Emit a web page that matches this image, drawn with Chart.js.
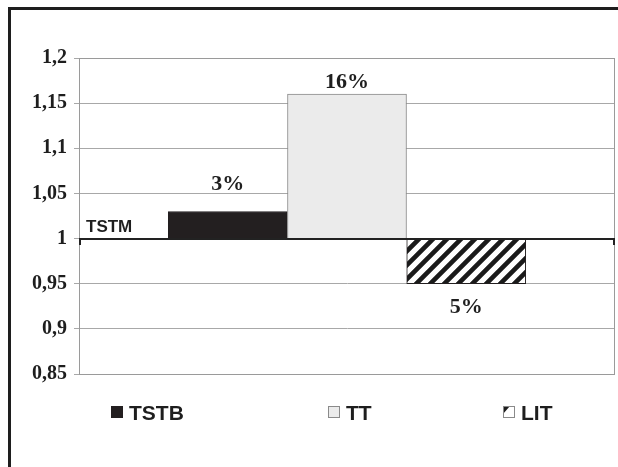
<!DOCTYPE html>
<html>
<head>
<meta charset="utf-8">
<script src="https://cdn.jsdelivr.net/npm/chart.js@4.4.1/dist/chart.umd.min.js"></script>
<style>
  html, body { margin: 0; padding: 0; background: #fff; }
  #wrap { width: 618px; height: 467px; }
</style>
</head>
<body>
<div id="wrap"><canvas id="grafica"></canvas></div>
<script>
// datos
const categorias = ['TSTB', 'TT', 'LIT'];
const base = 1;
const valores = [1.03, 1.16, 0.95];
const porcentajes = ['3%', '16%', '5%'];
const posPorcentaje = [1.06, 1.173, 0.924];
const etiquetaBase = 'TSTM';
const yMin = 0.85, yMax = 1.2, yPaso = 0.05;

// patrón rayado para LIT
function rayado() {
    const n = 14;
    const c = document.createElement('canvas');
    c.width = n; c.height = n;
    const g = c.getContext('2d');
    g.fillStyle = '#fff';
    g.fillRect(0, 0, n, n);
    g.strokeStyle = '#1a1a1a';
    g.lineWidth = 4.6;
    g.beginPath();
    g.moveTo(-2, n + 2); g.lineTo(n + 2, -2);
    g.moveTo(-n - 2, n + 2); g.lineTo(2, -2);
    g.moveTo(-2, 2 * n + 2); g.lineTo(2 * n + 2, -2);
    g.stroke();
    return g.createPattern(c, 'repeat');
}
const patron = rayado();
const rellenos = ['#231f20', '#ebebeb', patron];
const bordes = ['#231f20', '#8a8a8a', '#231f20'];

const extras = {
    id: 'extras',
    beforeDraw(chart) {
        const ctx = chart.ctx;
        ctx.save();
        ctx.fillStyle = '#fff';
        ctx.fillRect(0, 0, chart.width, chart.height);
        // marco exterior
        ctx.fillStyle = '#1e1e1e';
        ctx.fillRect(8, 7, 3, chart.height - 7);
        ctx.fillRect(8, 7, chart.width - 8, 3);
        ctx.restore();
    },
    beforeDatasetsDraw(chart) {
        const ctx = chart.ctx, a = chart.chartArea;
        ctx.save();
        ctx.strokeStyle = '#9a9a9a';
        ctx.lineWidth = 1;
        ctx.strokeRect(a.left + 0.5, a.top + 0.5, a.right - a.left - 1, a.bottom - a.top);
        ctx.restore();
    },
    afterDatasetsDraw(chart) {
        const ctx = chart.ctx, a = chart.chartArea;
        const y = chart.scales.y;
        const yb = Math.round(y.getPixelForValue(base));
        ctx.save();
        // línea base
        ctx.strokeStyle = '#222';
        ctx.lineWidth = 2;
        ctx.beginPath();
        ctx.moveTo(a.left, yb); ctx.lineTo(a.right, yb);
        ctx.moveTo(a.left + 1, yb); ctx.lineTo(a.left + 1, yb + 6);
        ctx.moveTo(a.right - 1, yb); ctx.lineTo(a.right - 1, yb + 6);
        ctx.stroke();
        // etiqueta TSTM
        ctx.fillStyle = '#1e1e1e';
        ctx.font = 'bold 17px "Liberation Sans", Arial, sans-serif';
        ctx.textAlign = 'left';
        ctx.textBaseline = 'middle';
        ctx.fillText(etiquetaBase, a.left + 7, yb - 12);
        // porcentajes
        ctx.font = 'bold 22px "Liberation Serif", "Times New Roman", serif';
        ctx.textAlign = 'center';
        const meta = chart.getDatasetMeta(0);
        meta.data.forEach((bar, i) => {
            ctx.fillText(porcentajes[i], bar.x, y.getPixelForValue(posPorcentaje[i]));
        });
        // leyenda
        const xs = [111, 328, 503];
        const ly = 412;
        ctx.font = 'bold 21px "Liberation Sans", Arial, sans-serif';
        ctx.textAlign = 'left';
        categorias.forEach((c, i) => {
            ctx.fillStyle = i === 2 ? '#fff' : rellenos[i];
            ctx.fillRect(xs[i], ly - 6, 12, 12);
            if (i === 2) {
                ctx.fillStyle = '#1e1e1e';
                ctx.beginPath();
                ctx.moveTo(xs[i], ly - 6); ctx.lineTo(xs[i] + 7, ly - 6); ctx.lineTo(xs[i], ly + 2);
                ctx.fill();
            }
            ctx.strokeStyle = i === 0 ? '#231f20' : '#8a8a8a';
            ctx.lineWidth = 1;
            ctx.strokeRect(xs[i] + 0.5, ly - 5.5, 11, 11);
            ctx.fillStyle = '#1e1e1e';
            ctx.fillText(c, xs[i] + 18, ly + 2);
        });
        ctx.restore();
    }
};

new Chart(document.getElementById('grafica').getContext('2d'), {
    type: 'bar',
    data: {
        datasets: [{
            label: 'valores',
            data: categorias.map((c, i) => ({ x: i + 1, y: [base, valores[i]] })),
            backgroundColor: rellenos,
            borderColor: bordes,
            borderWidth: 1,
            borderSkipped: false,
            barThickness: 119
        }]
    },
    options: {
        responsive: true,
        maintainAspectRatio: false,
        animation: false,
        layout: { padding: { top: 58, right: 3, bottom: 93, left: 0 } },
        scales: {
            x: {
                type: 'linear',
                display: false,
                offset: false,
                min: -0.248,
                max: 4.248
            },
            y: {
                min: yMin,
                max: yMax,
                afterFit(scale) { scale.width = 79; },
                afterBuildTicks(scale) {
                    const t = [];
                    for (let v = yMin; v <= yMax + 1e-9; v += yPaso) t.push({ value: Math.round(v * 100) / 100 });
                    scale.ticks = t;
                },
                ticks: {
                    padding: 7,
                    color: '#1e1e1e',
                    font: { family: '"Liberation Serif", "Times New Roman", serif', size: 20, weight: 'bold' },
                    callback: v => String(Math.round(v * 100) / 100).replace('.', ',')
                },
                grid: {
                    color: '#a8a8a8',
                    lineWidth: 1,
                    tickLength: 5
                },
                border: { color: '#9a9a9a' }
            }
        },
        plugins: {
            legend: { display: false },
            tooltip: { enabled: false }
        }
    },
    plugins: [extras]
});
</script>
</body>
</html>
